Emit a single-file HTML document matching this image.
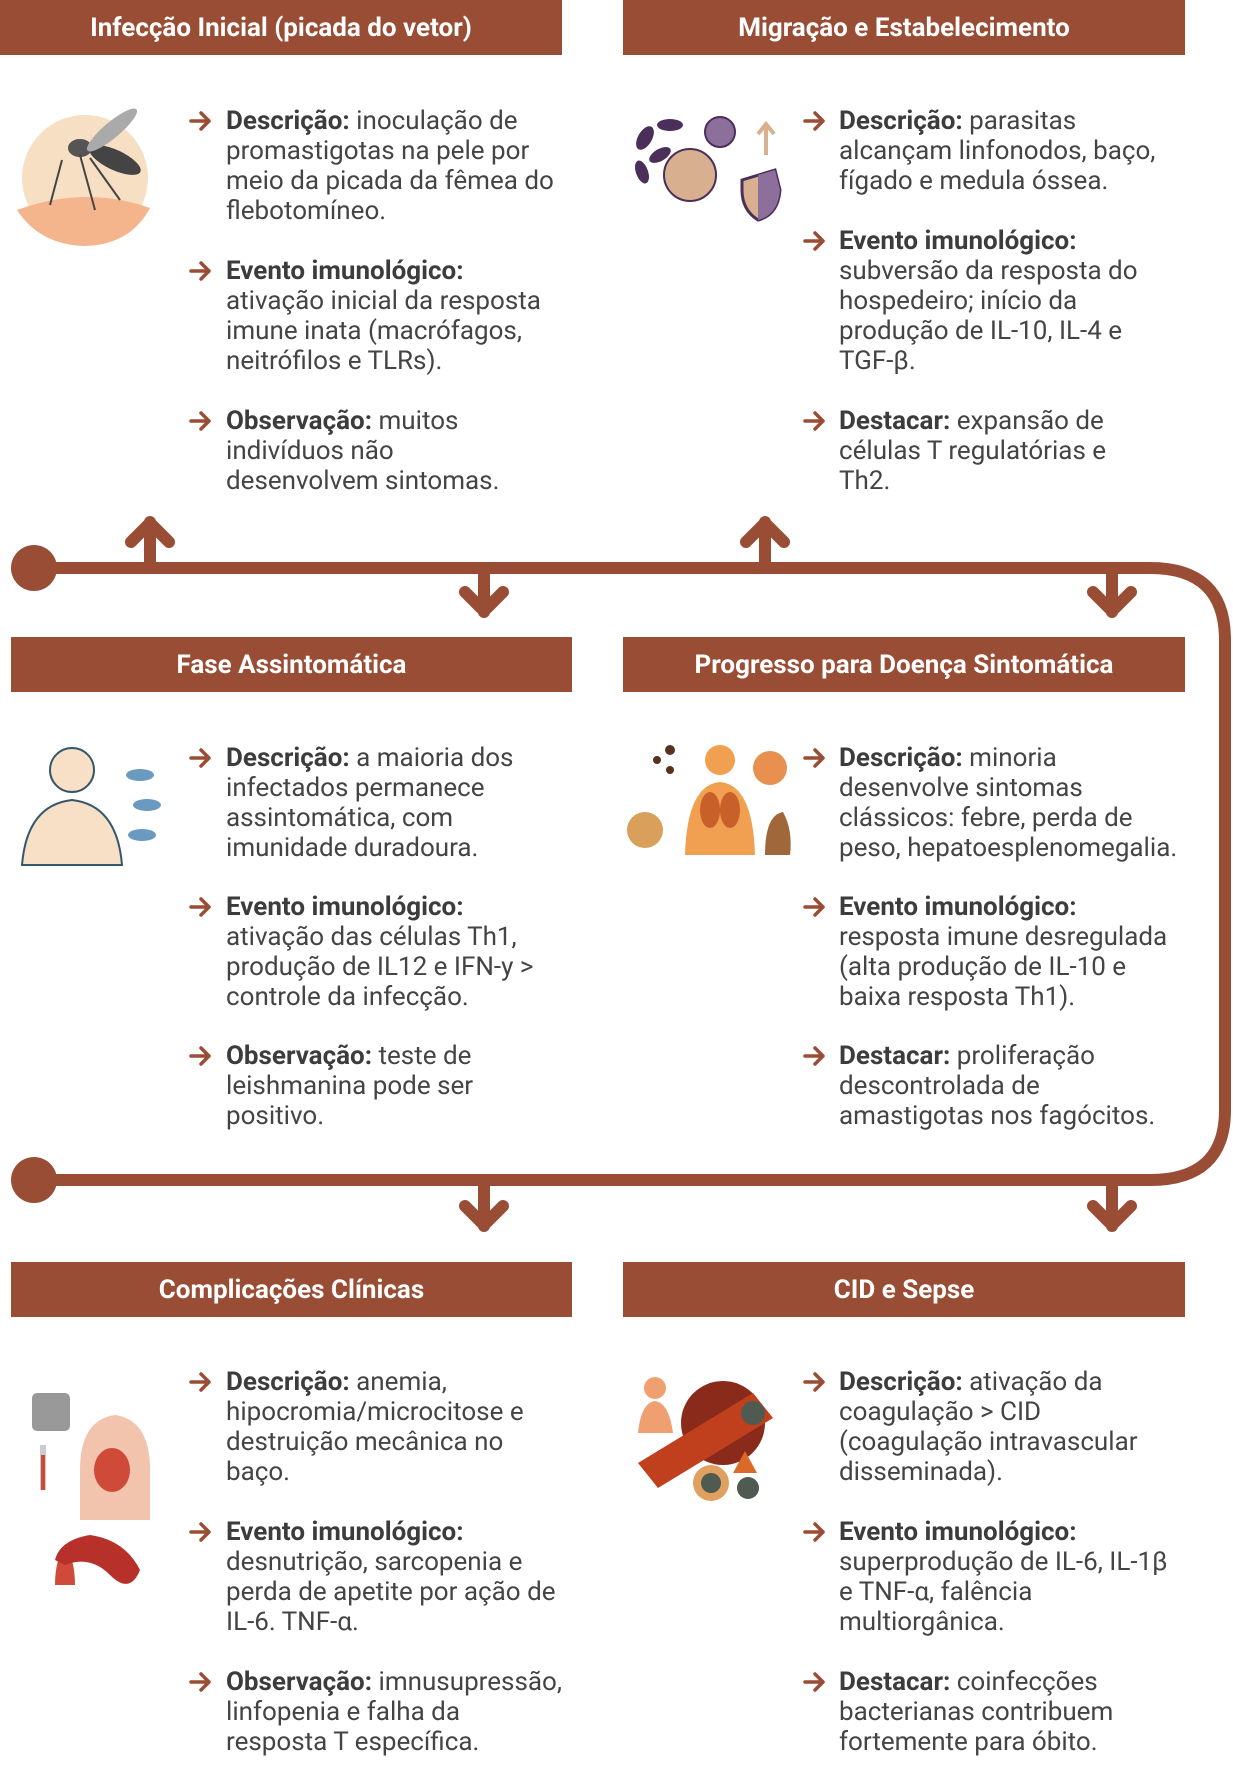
<!DOCTYPE html>
<html><head><meta charset="utf-8"><style>
body{margin:0;width:1233px;height:1774px;background:#fff;position:relative;overflow:hidden;font-family:"Roboto","Liberation Sans",sans-serif;}
.h{position:absolute;background:#9a4d35;color:#fff;font-weight:bold;font-size:26px;display:flex;align-items:center;justify-content:center;height:55px;}
.t{position:absolute;font-size:26px;line-height:30px;color:#444;white-space:nowrap;}
.t b{color:#3c3c3c}
.a{position:absolute;width:24px;height:20px;}
svg{position:absolute;left:0;top:0}
</style></head><body>
<svg width="1233" height="1774">
<defs><g id="ar"><path d="M2 10 H20 M12 2 L20 10 L12 18" stroke="#9a4d35" stroke-width="3.5" fill="none" stroke-linecap="round" stroke-linejoin="round"/></g></defs>
<use href="#ar" x="189" y="111"/><use href="#ar" x="189" y="261"/><use href="#ar" x="189" y="411"/>
<use href="#ar" x="803" y="111"/><use href="#ar" x="803" y="231"/><use href="#ar" x="803" y="411"/>
<use href="#ar" x="189" y="748"/><use href="#ar" x="189" y="897"/><use href="#ar" x="189" y="1046"/>
<use href="#ar" x="803" y="748"/><use href="#ar" x="803" y="897"/><use href="#ar" x="803" y="1046"/>
<use href="#ar" x="189" y="1372"/><use href="#ar" x="189" y="1522"/><use href="#ar" x="189" y="1672"/>
<use href="#ar" x="803" y="1372"/><use href="#ar" x="803" y="1522"/><use href="#ar" x="803" y="1672"/>
<g stroke="#9a4d35" stroke-width="12" fill="none" stroke-linecap="round" stroke-linejoin="round">
<path d="M34 568 H1150 Q1225 568 1225 640 V1110 Q1225 1180 1150 1180 H34"/>
<path d="M150 566 V522 M131 542 L150 523 L169 542"/>
<path d="M765 566 V522 M746 542 L765 523 L784 542"/>
<path d="M484 572 V612 M465 592 L484 611 L503 592"/>
<path d="M1112 572 V612 M1093 592 L1112 611 L1131 592"/>
<path d="M484 1184 V1226 M465 1206 L484 1225 L503 1206"/>
<path d="M1112 1184 V1226 M1093 1206 L1112 1225 L1131 1206"/>
</g>
<circle cx="34" cy="568" r="23" fill="#9a4d35"/>
<circle cx="34" cy="1180" r="23" fill="#9a4d35"/>
<circle cx="85" cy="178" r="63" fill="#f6dfc2"/>
<path d="M17 210 Q85 185 150 208 Q130 245 85 246 Q40 245 17 210Z" fill="#f4b48c"/>
<ellipse cx="115" cy="160" rx="28" ry="10" fill="#444" transform="rotate(25 115 160)"/>
<ellipse cx="80" cy="148" rx="12" ry="9" fill="#555"/>
<ellipse cx="112" cy="130" rx="32" ry="8" fill="#aaa" transform="rotate(-40 112 130)"/>
<path d="M62 160 L50 205 M80 155 L95 210 M90 158 L120 200" stroke="#444" stroke-width="2"/>
<g transform="translate(630,110)">
<ellipse cx="15" cy="28" rx="7" ry="13" fill="#4a2f5a" transform="rotate(30 15 28)"/>
<ellipse cx="40" cy="15" rx="13" ry="6" fill="#4a2f5a"/>
<ellipse cx="30" cy="45" rx="12" ry="6" fill="#4a2f5a" transform="rotate(-30 30 45)"/>
<ellipse cx="12" cy="62" rx="6" ry="12" fill="#4a2f5a" transform="rotate(-20 12 62)"/>
<circle cx="60" cy="65" r="26" fill="#d8b08f" stroke="#4a2f5a" stroke-width="2"/>
<circle cx="90" cy="22" r="15" fill="#8d6f9c" stroke="#4a2f5a" stroke-width="2"/>
<path d="M112 70 L145 60 L150 80 Q148 105 128 110 Q112 100 112 80Z" fill="#d8b08f" stroke="#4a2f5a" stroke-width="3"/>
<path d="M128 65 L145 60 L150 80 Q148 105 128 110Z" fill="#8d6f9c"/>
<path d="M136 45 V15 M128 24 L136 14 L144 24" stroke="#d8b08f" stroke-width="4" fill="none"/>
</g>
<g transform="translate(22,745)">
<circle cx="50" cy="25" r="22" fill="#f8e0c6" stroke="#35576e" stroke-width="2"/>
<path d="M0 120 Q5 60 50 55 Q95 60 100 120Z" fill="#f8e0c6" stroke="#35576e" stroke-width="2"/>
<ellipse cx="118" cy="30" rx="14" ry="6" fill="#6a9ac0"/>
<ellipse cx="125" cy="60" rx="14" ry="6" fill="#6a9ac0"/>
<ellipse cx="120" cy="90" rx="14" ry="6" fill="#6a9ac0"/>
</g>
<g transform="translate(625,740)">
<circle cx="20" cy="90" r="18" fill="#d8a05a"/>
<circle cx="45" cy="10" r="5" fill="#5a3020"/><circle cx="32" cy="20" r="4" fill="#5a3020"/><circle cx="45" cy="30" r="4" fill="#5a3020"/>
<circle cx="95" cy="20" r="15" fill="#f0a050"/>
<path d="M60 115 Q62 45 95 42 Q128 45 130 115Z" fill="#f0a050"/>
<ellipse cx="85" cy="70" rx="10" ry="18" fill="#c8602a"/><ellipse cx="105" cy="70" rx="10" ry="18" fill="#c8602a"/>
<circle cx="145" cy="28" r="17" fill="#e89050"/>
<path d="M140 115 Q140 75 158 72 Q168 90 165 115Z" fill="#a0683a"/>
</g>
<g transform="translate(30,1385)">
<rect x="2" y="8" width="38" height="38" rx="5" fill="#999"/>
<path d="M50 85 Q50 35 85 30 Q120 35 120 85 V135 H50Z" fill="#f2c4ae"/>
<ellipse cx="82" cy="85" rx="18" ry="22" fill="#d04a3a"/>
<rect x="10" y="60" width="6" height="45" fill="#ccc"/><rect x="11" y="70" width="4" height="35" fill="#d04a3a"/>
<path d="M25 200 Q25 175 35 160 Q45 175 45 200Z" fill="#d04a3a"/>
<path d="M25 175 Q30 155 60 150 Q95 155 110 185 Q100 210 80 190 Q60 170 35 180Z" fill="#b8302a"/>
</g>
<g transform="translate(633,1373)">
<circle cx="22" cy="15" r="11" fill="#f0a070"/>
<path d="M5 60 Q8 30 22 28 Q36 30 40 60Z" fill="#f0a070"/>
<circle cx="90" cy="50" r="42" fill="#8a2a1a"/>
<path d="M5 90 L120 20 L140 45 L25 115Z" fill="#c0401e"/>
<circle cx="120" cy="40" r="12" fill="#4f5a50"/>
<circle cx="78" cy="110" r="18" fill="#e0a060"/><circle cx="78" cy="110" r="10" fill="#4f5a50"/>
<circle cx="115" cy="115" r="11" fill="#4f5a50"/>
<path d="M100 100 L112 78 L124 100Z" fill="#d96a2a"/>
</g>
</svg>

<div class="h" style="left:0;top:0;width:562px">Infecção Inicial (picada do vetor)</div>
<div class="h" style="left:623px;top:0;width:562px">Migração e Estabelecimento</div>
<div class="h" style="left:11px;top:637px;width:561px">Fase Assintomática</div>
<div class="h" style="left:623px;top:637px;width:562px">Progresso para Doença Sintomática</div>
<div class="h" style="left:11px;top:1262px;width:561px">Complicações Clínicas</div>
<div class="h" style="left:623px;top:1262px;width:562px">CID e Sepse</div>

<div class="t" style="left:226px;top:106px"><b>Descrição:</b> inoculação de<br>promastigotas na pele por<br>meio da picada da fêmea do<br>flebotomíneo.</div>
<div class="t" style="left:226px;top:256px"><b>Evento imunológico:</b><br>ativação inicial da resposta<br>imune inata (macrófagos,<br>neitrófilos e TLRs).</div>
<div class="t" style="left:226px;top:406px"><b>Observação:</b> muitos<br>indivíduos não<br>desenvolvem sintomas.</div>

<div class="t" style="left:839px;top:106px"><b>Descrição:</b> parasitas<br>alcançam linfonodos, baço,<br>fígado e medula óssea.</div>
<div class="t" style="left:839px;top:226px"><b>Evento imunológico:</b><br>subversão da resposta do<br>hospedeiro; início da<br>produção de IL-10, IL-4 e<br>TGF-β.</div>
<div class="t" style="left:839px;top:406px"><b>Destacar:</b> expansão de<br>células T regulatórias e<br>Th2.</div>

<div class="t" style="left:226px;top:743px"><b>Descrição:</b> a maioria dos<br>infectados permanece<br>assintomática, com<br>imunidade duradoura.</div>
<div class="t" style="left:226px;top:892px"><b>Evento imunológico:</b><br>ativação das células Th1,<br>produção de IL12 e IFN-y &gt;<br>controle da infecção.</div>
<div class="t" style="left:226px;top:1041px"><b>Observação:</b> teste de<br>leishmanina pode ser<br>positivo.</div>

<div class="t" style="left:839px;top:743px"><b>Descrição:</b> minoria<br>desenvolve sintomas<br>clássicos: febre, perda de<br>peso, hepatoesplenomegalia.</div>
<div class="t" style="left:839px;top:892px"><b>Evento imunológico:</b><br>resposta imune desregulada<br>(alta produção de IL-10 e<br>baixa resposta Th1).</div>
<div class="t" style="left:839px;top:1041px"><b>Destacar:</b> proliferação<br>descontrolada de<br>amastigotas nos fagócitos.</div>

<div class="t" style="left:226px;top:1367px"><b>Descrição:</b> anemia,<br>hipocromia/microcitose e<br>destruição mecânica no<br>baço.</div>
<div class="t" style="left:226px;top:1517px"><b>Evento imunológico:</b><br>desnutrição, sarcopenia e<br>perda de apetite por ação de<br>IL-6. TNF-α.</div>
<div class="t" style="left:226px;top:1667px"><b>Observação:</b> imnusupressão,<br>linfopenia e falha da<br>resposta T específica.</div>

<div class="t" style="left:839px;top:1367px"><b>Descrição:</b> ativação da<br>coagulação &gt; CID<br>(coagulação intravascular<br>disseminada).</div>
<div class="t" style="left:839px;top:1517px"><b>Evento imunológico:</b><br>superprodução de IL-6, IL-1β<br>e TNF-α, falência<br>multiorgânica.</div>
<div class="t" style="left:839px;top:1667px"><b>Destacar:</b> coinfecções<br>bacterianas contribuem<br>fortemente para óbito.</div>
</body></html>
